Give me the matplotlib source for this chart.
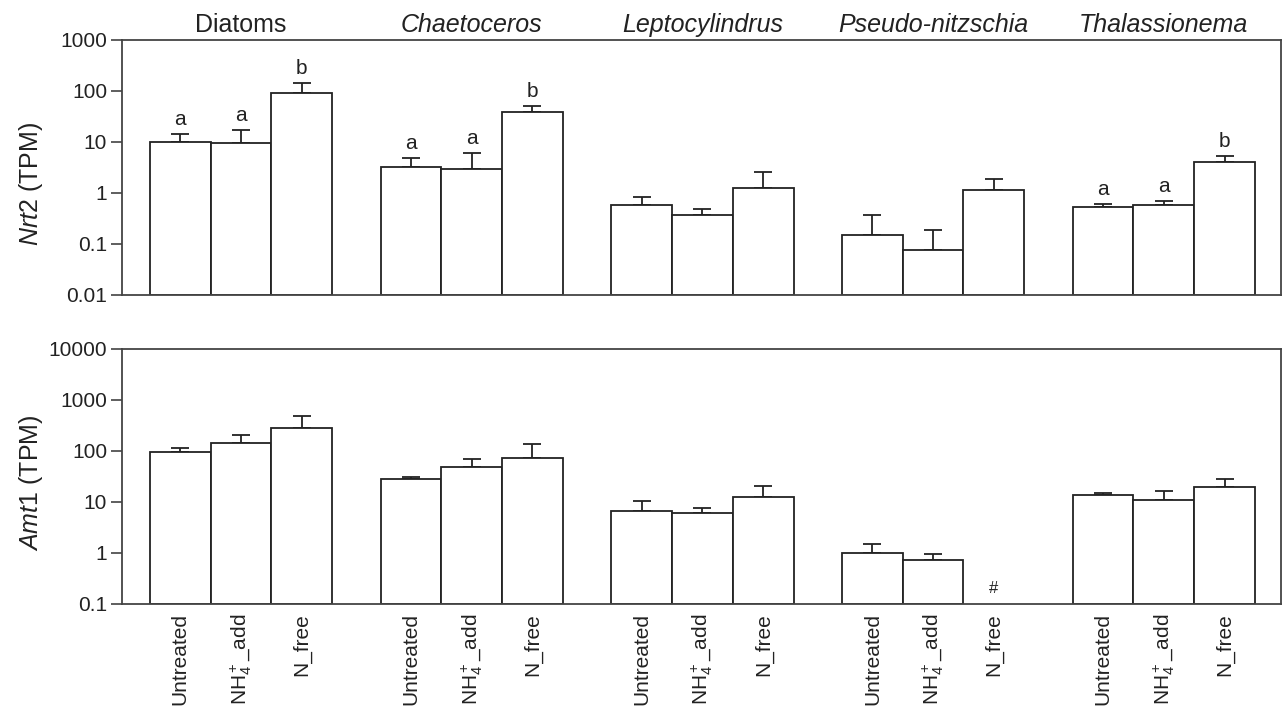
import matplotlib
matplotlib.use("Agg")
import matplotlib.pyplot as plt
import matplotlib.ticker as mticker
import matplotlib.transforms as mtransforms
import numpy as np

plt.rcParams['font.family'] = ['Liberation Sans', 'DejaVu Sans']
plt.rcParams['mathtext.fontset'] = 'custom'
plt.rcParams['mathtext.rm'] = 'Liberation Sans'
plt.rcParams['mathtext.it'] = 'Liberation Sans:italic'
plt.rcParams['mathtext.bf'] = 'Liberation Sans:bold'

# ---------------- data ----------------
groups = ['Diatoms', 'Chaetoceros', 'Leptocylindrus', 'Pseudo-nitzschia', 'Thalassionema']
group_italic = [False, True, True, True, True]
treatments = ['Untreated', r'NH$_4^+$_add', 'N_free']

nrt2_mean = [[10.0, 9.3, 91.0],
             [3.2, 2.9, 37.5],
             [0.57, 0.37, 1.24],
             [0.147, 0.075, 1.10],
             [0.52, 0.58, 3.95]]
nrt2_err = [[4.0, 7.5, 51.0],
            [1.5, 3.0, 12.5],
            [0.26, 0.10, 1.28],
            [0.21, 0.11, 0.70],
            [0.08, 0.10, 1.35]]
nrt2_letters = [['a', 'a', 'b'],
                ['a', 'a', 'b'],
                ['', '', ''],
                ['', '', ''],
                ['a', 'a', 'b']]

amt1_mean = [[97.0, 142.0, 287.0],
             [27.8, 47.8, 72.0],
             [6.7, 5.9, 12.5],
             [1.0, 0.71, None],
             [13.8, 10.9, 19.6]]
amt1_err = [[19.0, 64.0, 200.0],
            [2.6, 22.0, 63.0],
            [3.9, 1.8, 8.3],
            [0.49, 0.25, None],
            [1.0, 5.5, 9.0]]
amt1_marks = [['', '', ''],
              ['', '', ''],
              ['', '', ''],
              ['', '', '#'],
              ['', '', '']]

# ---------------- layout ----------------
W, H = 1282, 707
fig = plt.figure(figsize=(W / 100, H / 100), dpi=100)
left_px, right_px = 122.3, 1281.0
ax1 = fig.add_axes([left_px / W, 1 - 294.5 / H, (right_px - left_px) / W, 255.0 / H])
ax2 = fig.add_axes([left_px / W, 1 - 603.7 / H, (right_px - left_px) / W, 254.7 / H])

group_step = 3.8
bar_w = 1.0
ink = '#222222'


def xpos(g, j):
    return g * group_step + j * bar_w


def draw_bars(ax, means, errs, ylim, ylabel, label_y):
    xs, hs, es = [], [], []
    for g in range(len(groups)):
        for j in range(len(treatments)):
            m = means[g][j]
            if m is None:
                continue
            xs.append(xpos(g, j))
            hs.append(m)
            es.append(errs[g][j])
    xs = np.array(xs); hs = np.array(hs); es = np.array(es)
    ax.bar(xs, hs - ylim[0], width=bar_w, bottom=ylim[0], color='white', edgecolor=ink,
           linewidth=1.3, zorder=2)
    ax.errorbar(xs, hs, yerr=[np.zeros_like(es), es], fmt='none', ecolor=ink,
                elinewidth=1.3, capsize=6.5, capthick=1.3, zorder=1)
    ax.set_yscale('log')
    ax.set_ylim(*ylim)
    ax.set_xlim(-0.5 - 0.456, xpos(4, 2) + 0.5 + 0.43)
    ax.yaxis.set_major_locator(mticker.LogLocator(base=10, numticks=10))
    ax.yaxis.set_minor_locator(mticker.NullLocator())
    ax.yaxis.set_major_formatter(mticker.FuncFormatter(lambda v, _: f'{v:g}'))
    ax.tick_params(axis='y', direction='out', length=8, width=1.1, color='#333333',
                   labelsize=15, labelcolor=ink, pad=3)
    for s in ax.spines.values():
        s.set_color('#444444')
        s.set_linewidth(1.3)
    ax.set_ylabel(ylabel, fontsize=18, color=ink)
    ax.yaxis.set_label_coords(-0.067, label_y)
    return xs, hs, es


draw_bars(ax1, nrt2_mean, nrt2_err, (0.01, 1000), r'$\mathit{Nrt2}$ (TPM)', 0.435)
draw_bars(ax2, amt1_mean, amt1_err, (0.1, 10000), r'$\mathit{Amt}$1 (TPM)', 0.476)

# significance letters
for g in range(len(groups)):
    for j in range(len(treatments)):
        lt = nrt2_letters[g][j]
        if lt:
            top = nrt2_mean[g][j] + nrt2_err[g][j]
            ax1.annotate(lt, xy=(xpos(g, j), top), xytext=(0, 6.5), textcoords='offset points',
                         ha='center', va='baseline', fontsize=15, color=ink)

# '#' marks on bottom panel
tr2 = mtransforms.blended_transform_factory(ax2.transData, ax2.transAxes)
for g in range(len(groups)):
    for j in range(len(treatments)):
        mk = amt1_marks[g][j]
        if mk:
            ax2.text(xpos(g, j), 0.06, mk, transform=tr2, ha='center', va='center',
                     fontsize=12, color=ink)

# group titles
tr1 = mtransforms.blended_transform_factory(ax1.transData, ax1.transAxes)
for g, name in enumerate(groups):
    ax1.text(xpos(g, 1), 1.057, name, transform=tr1, ha='center', va='center',
             fontsize=18, color=ink, fontstyle='italic' if group_italic[g] else 'normal')

# x tick labels
ax1.set_xticks([])
ticks = [xpos(g, j) for g in range(len(groups)) for j in range(len(treatments))]
labels = [t for g in range(len(groups)) for t in treatments]
ax2.set_xticks(ticks)
ax2.set_xticklabels(labels, rotation=90, fontsize=15, color=ink)
ax2.tick_params(axis='x', length=0, pad=7)

fig.savefig('out.png', dpi=100)
